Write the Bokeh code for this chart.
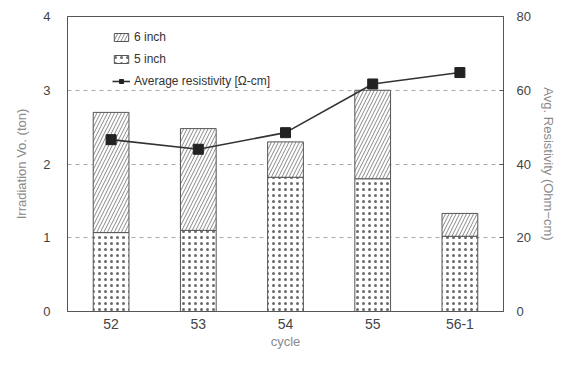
from bokeh.plotting import figure
from bokeh.models import (Range1d, LinearAxis, FixedTicker, Legend, LegendItem,
                          ColumnDataSource)
from bokeh.embed import file_html
from bokeh.resources import INLINE

cycles = ["52", "53", "54", "55", "56-1"]
five_inch = [1.07, 1.10, 1.82, 1.80, 1.02]
six_inch = [1.63, 1.38, 0.48, 1.20, 0.31]
resistivity = [46.6, 44.0, 48.5, 61.7, 64.8]
left_ticks = [0, 1, 2, 3, 4]
right_ticks = [0, 20, 40, 60, 80]

src = ColumnDataSource(dict(cycle=cycles, five=five_inch, six=six_inch,
                            res=resistivity))

FONT = "Liberation Sans"
p = figure(x_range=cycles, y_range=Range1d(0, 4), width=558, height=351,
           output_backend="svg", toolbar_location=None,
           min_border_left=67, min_border_right=52, min_border_top=16,
           min_border_bottom=40)
p.extra_y_ranges = {"res": Range1d(0, 80)}

stack = p.vbar_stack(["five", "six"], x="cycle", width=0.41, source=src,
                     fill_color="white", line_color="#555555", line_width=1,
                     hatch_pattern=[".", "/"], hatch_color="#6a6a6a",
                     hatch_scale=[6, 7], hatch_weight=[1.7, 0.8])

ln = p.line("cycle", "res", source=src, y_range_name="res",
            line_color="#333333", line_width=1.6)
mk = p.scatter("cycle", "res", source=src, y_range_name="res", marker="square",
               size=10, fill_color="#222222", line_color="#222222")

# axes
yax = p.yaxis[0]
yax.ticker = FixedTicker(ticks=left_ticks)
yax.axis_label = "Irradiation Vo. (ton)"
yax.major_tick_out = 0
yax.major_tick_in = 0
yax.minor_tick_out = 0
yax.minor_tick_in = 0
yax.major_label_standoff = 17
yax.axis_label_standoff = 11

rax = LinearAxis(y_range_name="res", ticker=FixedTicker(ticks=right_ticks),
                 axis_label="Avg. Resistivity (Ohm\u2212cm)")
rax.major_tick_out = 0
rax.major_tick_in = 4
rax.minor_tick_out = 0
rax.minor_tick_in = 0
rax.major_label_standoff = 13
rax.axis_label_standoff = 7
p.add_layout(rax, "right")

xax = p.xaxis[0]
xax.axis_label = "cycle"
xax.major_tick_out = 0
xax.major_tick_in = 0
xax.major_label_standoff = 7
xax.axis_label_standoff = 2

for ax in [yax, rax, xax]:
    ax.axis_line_color = "#555555"
    ax.major_tick_line_color = "#555555"
    ax.major_label_text_font = FONT
    ax.major_label_text_color = "#444444"
    ax.major_label_text_font_size = "13px"
    ax.axis_label_text_font = FONT
    ax.axis_label_text_font_style = "normal"
    ax.axis_label_text_color = "#8a8a8a"
    ax.axis_label_text_font_size = "13px"
xax.major_label_text_font_size = "14px"

p.xgrid.grid_line_color = None
p.ygrid.ticker = FixedTicker(ticks=[1, 2, 3])
p.ygrid.grid_line_color = "#aaaaaa"
p.ygrid.grid_line_dash = "4 4"
p.outline_line_color = "#555555"
p.outline_line_width = 1

legend = Legend(items=[
    LegendItem(label="6 inch", renderers=[stack[1]]),
    LegendItem(label="5 inch", renderers=[stack[0]]),
    LegendItem(label="Average resistivity [\u03a9-cm]", renderers=[ln, mk]),
], location=(45, 222))
legend.border_line_color = None
legend.background_fill_alpha = 0
legend.padding = 0
legend.margin = 0
legend.spacing = 6
legend.glyph_width = 18
legend.glyph_height = 10
legend.label_height = 16
legend.label_standoff = 4
legend.label_text_font = FONT
legend.label_text_font_size = "12px"
legend.label_text_color = "#333333"
p.add_layout(legend, "center")

open("out.html", "w").write(file_html(p, INLINE))
